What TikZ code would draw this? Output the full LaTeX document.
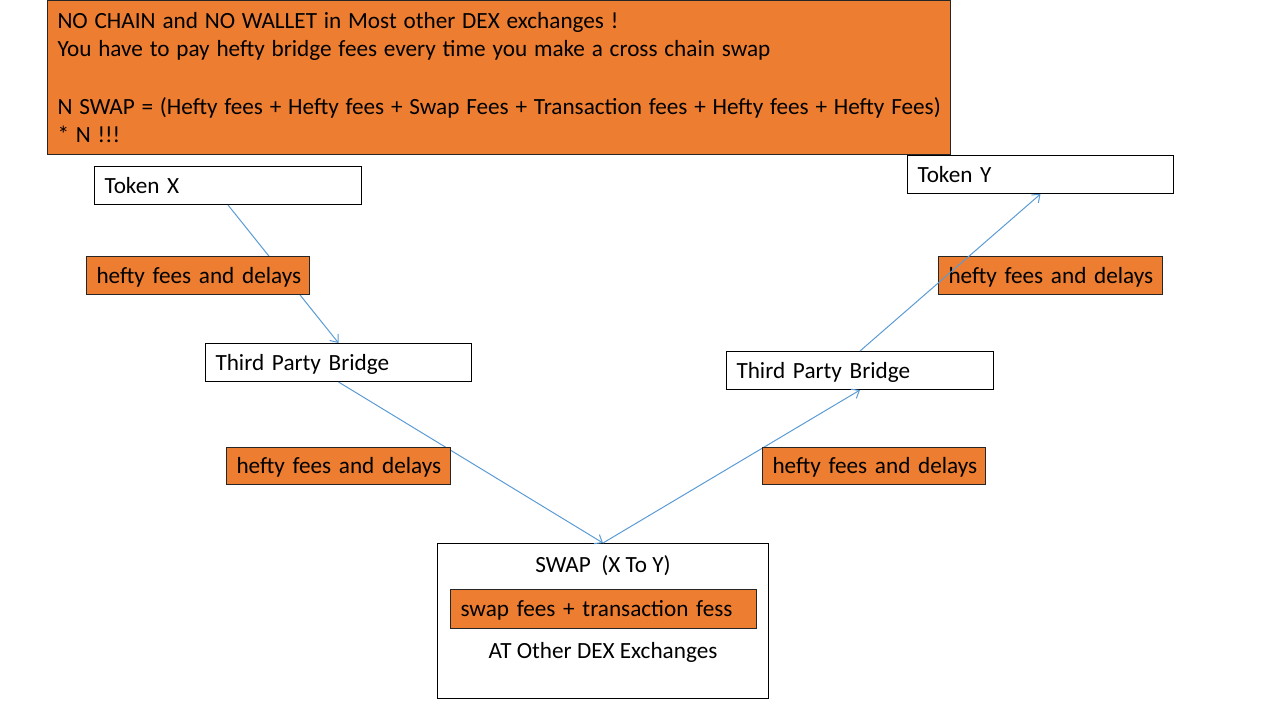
\documentclass[tikz,border=0pt]{standalone}
\usepackage{fontspec}
\setmainfont{Carlito}
\usetikzlibrary{arrows.meta}
\definecolor{orng}{HTML}{ED7D31}
\definecolor{lnblue}{HTML}{5B9BD5}
\begin{document}
\begin{tikzpicture}[x=0.75pt,y=-0.75pt,
  font=\fontsize{17.4}{21.5}\selectfont,
  box/.style={draw=black,line width=0.75pt,fill=white,rectangle,anchor=north west,
    inner xsep=7.5pt,inner ysep=0pt,align=left,minimum height=28.5pt,
    text height=14.5pt,text depth=3pt},
  fee/.style={box,fill=orng,draw=black!85},
  conn/.style={draw=lnblue,line width=0.75pt,-{Straight Barb[length=5pt,width=8pt,line width=0.75pt]}}]
\useasboundingbox (0,0) rectangle (1280,720);
% boxes
\node[fee,minimum width=677.25pt,minimum height=115.5pt,text width=662.25pt,
      text height=,text depth=] (top) at (47,0)
 {\spaceskip=0.293em\relax
  \mbox{NO CHAIN and NO WALLET in Most other DEX exchanges !}\\
  \mbox{You have to pay hefty bridge fees every time you make a cross chain swap}\\[21.5pt]
  \mbox{N SWAP = (Hefty fees + Hefty fees + Swap Fees + Transaction fees + Hefty fees + Hefty Fees)}\\
  \mbox{* N !!!}};
\node[box,minimum width=200.25pt,text width=185.25pt] (tx) at (94,166) {\mbox{Token X}};
\node[box,minimum width=199.5pt,text width=184.5pt] (ty) at (907,155) {\mbox{Token Y}};
\node[box,minimum width=199.5pt,text width=184.5pt] (tpbl) at (205,343) {\mbox{Third Party Bridge}};
\node[box,minimum width=200.25pt,text width=185.25pt] (tpbr) at (726,351) {\mbox{Third Party Bridge}};
\node[box,minimum width=248.25pt,minimum height=116.25pt,text height=,text depth=] (sw) at (437,543) {};
\node[anchor=center] (swt) at (603,566) {SWAP\ \ (X To Y)};
\node[fee,minimum width=229.5pt,minimum height=29.25pt,text width=214.5pt] (swf) at (450,589) {\mbox{swap fees + transaction fess}};
\node[anchor=center] (swx) at (603,652) {AT Other DEX Exchanges};
\node[fee,minimum width=168pt,text width=153pt] (f4) at (938,256) {\mbox{hefty fees and delays}};
% connectors
\draw[conn] (tx.south) -- (tpbl.north);
\draw[conn] (tpbl.south) -- (sw.north);
\draw[conn] (sw.north) -- (tpbr.south);
\draw[conn] (tpbr.north) -- (ty.south);
% orange labels over the lines
\node[fee,minimum width=167.25pt,text width=152.25pt] (f1) at (86,256) {\mbox{hefty fees and delays}};
\node[fee,minimum width=168pt,minimum height=27.75pt,text width=153pt] (f2) at (226,447) {\mbox{hefty fees and delays}};
\node[fee,minimum width=167.25pt,minimum height=27.75pt,text width=152.25pt] (f3) at (762,447) {\mbox{hefty fees and delays}};
\end{tikzpicture}
\end{document}
